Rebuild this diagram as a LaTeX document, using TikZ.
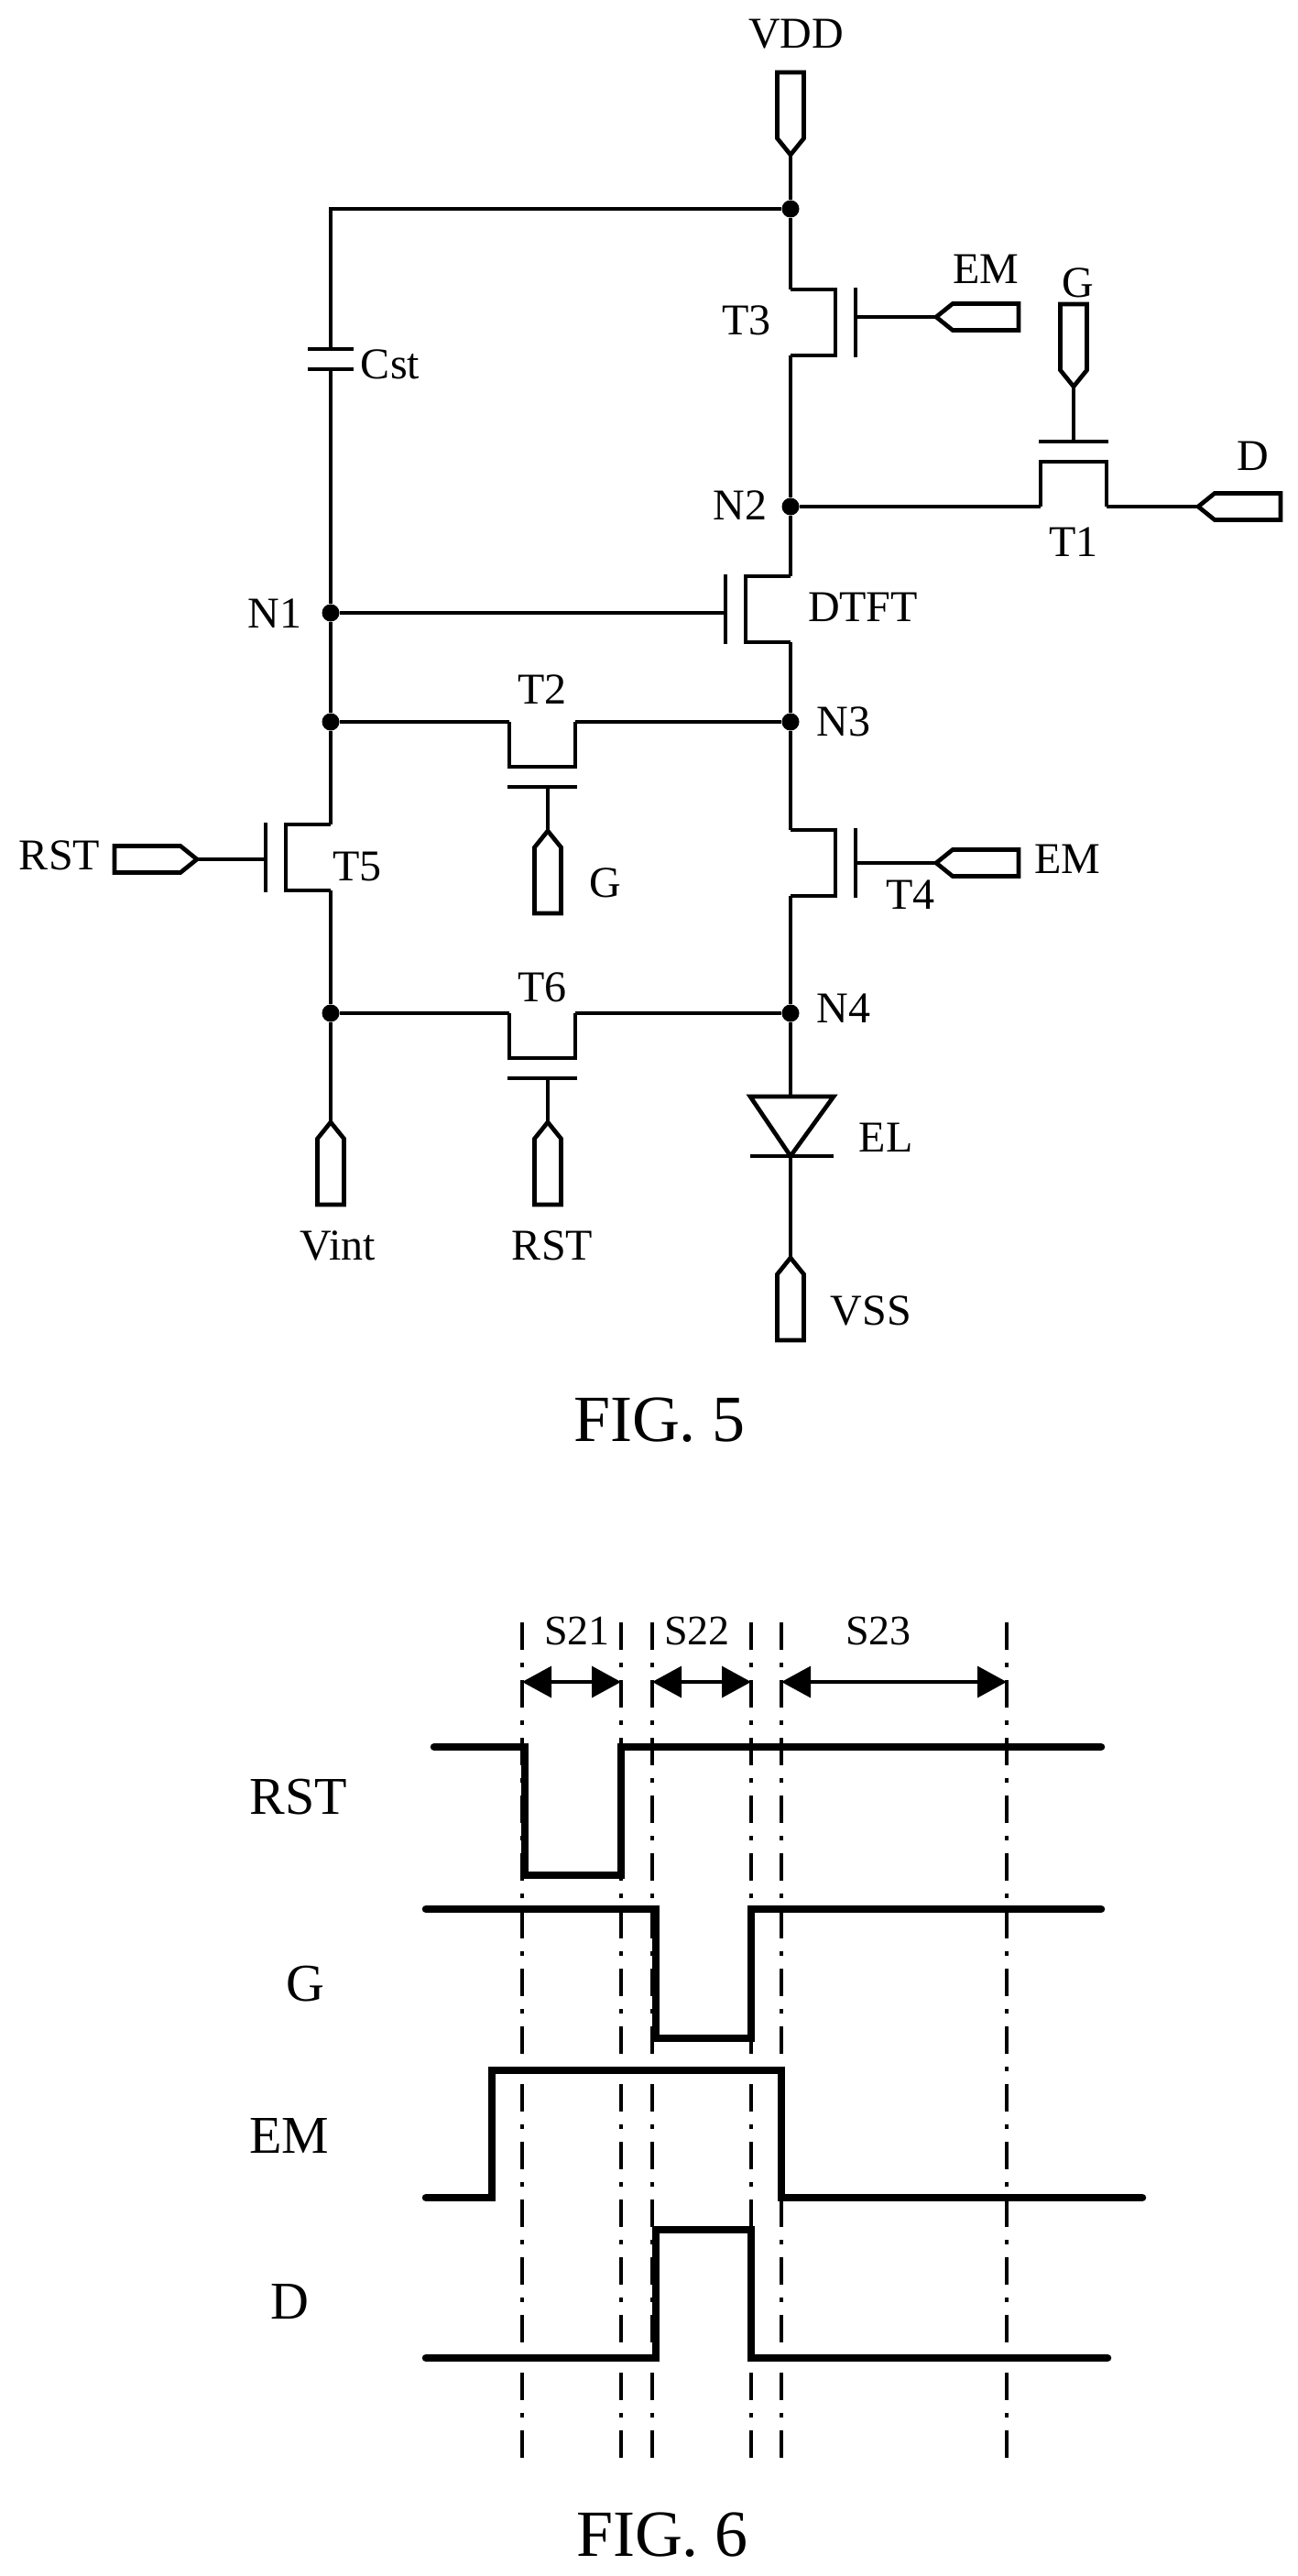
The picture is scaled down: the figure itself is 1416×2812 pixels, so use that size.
\documentclass[tikz,border=0pt]{standalone}
\usepackage{fontspec}
\setmainfont{Liberation Serif}
\usetikzlibrary{arrows.meta}
\tikzset{
  wire/.style={line width=4.7pt},
  jdot/.style={circle,fill=black,inner sep=0pt,minimum size=19pt},
  lab/.style={inner sep=0pt,font=\fontsize{48}{48}\selectfont},
  slab/.style={inner sep=0pt,font=\fontsize{46}{46}\selectfont},
  biglab/.style={inner sep=0pt,font=\fontsize{58}{58}\selectfont},
  figlab/.style={inner sep=0pt,font=\fontsize{72}{72}\selectfont},
  sig/.style={line width=8.5pt,line cap=round,line join=miter},
  guide/.style={line width=3.5pt,dash pattern=on 30pt off 14pt on 5pt off 14pt},
  span/.style={line width=3.5pt,{Triangle[length=32pt,width=34pt]}-{Triangle[length=32pt,width=34pt]}}
}
% thin film transistor: centre on the wire, gate bar on local +x
\def\tft#1#2#3{
\begin{scope}[shift={#1}, rotate=#2]
    \coordinate (#3a) at (0,-36);
    \coordinate (#3b) at (0,36);
    \coordinate (#3g) at (70,0);
    \draw[wire] (#3a) -- (49,-36) -- (49,36) -- (#3b);
    \draw[wire] (71,-38) -- (71,38);
\end{scope}
}
% signal pin: tip at the wire, body on local +x
\def\sigpin#1#2#3{
\begin{scope}[shift={#1}, rotate=#2]
    \coordinate (#3) at (0,0);
    \draw[wire] (#3) -- (18,-14.5) -- (90,-14.5) -- (90,14.5) -- (18,14.5) -- cycle;
\end{scope}
}

\begin{document}
\begin{tikzpicture}[x=1pt,y=-1pt]
    \useasboundingbox (0,0) rectangle (1416,2812);
    % FIG. 5
    \node[jdot] (ja) at (863,228) {};
    \node[jdot] (n2) at (863,553) {};
    \node[jdot] (n1) at (361,669) {};
    \node[jdot] (jb) at (361,788) {};
    \node[jdot] (n3) at (863,788) {};
    \node[jdot] (jc) at (361,1106) {};
    \node[jdot] (n4) at (863,1106) {};
    \tft{(863,352)}{0}{tc}
    \tft{(863,665)}{180}{dt}
    \tft{(863,942)}{0}{td}
    \tft{(361,936)}{180}{te}
    \tft{(1172,553)}{90}{ta}
    \tft{(592,788)}{-90}{tb}
    \tft{(592,1106)}{-90}{tf}
    \sigpin{(863,169)}{90}{pvdd}
    \sigpin{(1022,346)}{0}{pema}
    \sigpin{(1172,422)}{90}{pg}
    \sigpin{(1308,553)}{0}{pd}
    \sigpin{(215,938)}{180}{prst}
    \sigpin{(598,907)}{-90}{pgb}
    \sigpin{(1022,942)}{0}{pemb}
    \sigpin{(361,1225)}{-90}{pvint}
    \sigpin{(598,1225)}{-90}{prstb}
    \sigpin{(863,1373)}{-90}{pvss}
    \coordinate (cu) at (361,381);
    \coordinate (cl) at (361,403);
    \coordinate (da) at (863,1197);
    \coordinate (dc) at (863,1262);
    \draw[wire] (pvdd) -- (ja) -- (tca);
    \draw[wire] (ja) -- (361,228) -- (cu);
    \draw[wire] (336,381) -- (386,381);
    \draw[wire] (336,403) -- (386,403);
    \draw[wire] (cl) -- (n1) -- (jb) -- (teb);
    \draw[wire] (tea) -- (jc) -- (pvint);
    \draw[wire] (tcb) -- (n2) -- (dtb);
    \draw[wire] (dta) -- (n3) -- (tda);
    \draw[wire] (tdb) -- (n4) -- (da);
    \draw[wire] (819,1197) -- (910,1197) -- (dc) -- cycle;
    \draw[wire] (819,1262) -- (910,1262);
    \draw[wire] (dc) -- (pvss);
    \draw[wire] (n2) -- (taa);
    \draw[wire] (tab) -- (pd);
    \draw[wire] (pg) -- (tag);
    \draw[wire] (n1) -- (n1 -| dtg);
    \draw[wire] (tcg |- pema) -- (pema);
    \draw[wire] (tdg) -- (pemb);
    \draw[wire] (prst) -- (teg |- prst);
    \draw[wire] (jb) -- (tbb);
    \draw[wire] (tba) -- (n3);
    \draw[wire] (jc) -- (tfb);
    \draw[wire] (tfa) -- (n4);
    \draw[wire] (pgb |- tbg) -- (pgb);
    \draw[wire] (prstb |- tfg) -- (prstb);
    \node[lab] (lvdd) at (869,37) {VDD};
    \node[lab] (lema) at (1076,294) {EM};
    \node[lab] (lgt) at (1177,309) {G};
    \node[lab] (lt3) at (815,350) {T3};
    \node[lab] (lcst) at (426,398) {Cst};
    \node[lab] (ld) at (1368,498) {D};
    \node[lab] (ln2) at (808,552) {N2};
    \node[lab] (lt1) at (1172,592) {T1};
    \node[lab] (ldt) at (942,663) {DTFT};
    \node[lab] (ln1) at (300,670) {N1};
    \node[lab] (lt2) at (592,753) {T2};
    \node[lab] (ln3) at (921,788) {N3};
    \node[lab] (lrst) at (65,934) {RST};
    \node[lab] (lemb) at (1165,938) {EM};
    \node[lab] (lt5) at (390,946) {T5};
    \node[lab] (lgb) at (661,964) {G};
    \node[lab] (lt4) at (994,977) {T4};
    \node[lab] (lt6) at (592,1078) {T6};
    \node[lab] (ln4) at (921,1101) {N4};
    \node[lab] (lel) at (967,1242) {EL};
    \node[lab] (lvint) at (369,1360) {Vint};
    \node[lab] (lrstb) at (603,1360) {RST};
    \node[lab] (lvss) at (951,1431) {VSS};
    \node[figlab] (fa) at (720,1550) {FIG. 5};
    % FIG. 6
    \foreach \x [count=\i] in {570,678,712,820,853,1099} {
        \coordinate (mt\i) at (\x,1771);
        \coordinate (mb\i) at (\x,2684);
        \coordinate (ma\i) at (\x,1836);
        \draw[guide] (mt\i) -- (mb\i);
    }
    \draw[span] (ma1) -- (ma2);
    \draw[span] (ma3) -- (ma4);
    \draw[span] (ma5) -- (ma6);
    \node[slab] (ls1) at (630,1780) {S21};
    \node[slab] (ls2) at (761,1780) {S22};
    \node[slab] (ls3) at (959,1780) {S23};
    \draw[sig] (474,1907) -- (573,1907) -- (573,2047) -- (678,2047) -- (678,1907) -- (1202,1907);
    \draw[sig] (465,2084) -- (716,2084) -- (716,2225) -- (820,2225) -- (820,2084) -- (1202,2084);
    \draw[sig] (465,2399) -- (537,2399) -- (537,2260) -- (853,2260) -- (853,2399) -- (1247,2399);
    \draw[sig] (465,2574) -- (716,2574) -- (716,2434) -- (820,2434) -- (820,2574) -- (1209,2574);
    \node[biglab] (lsr) at (326,1962) {RST};
    \node[biglab] (lsg) at (333,2166) {G};
    \node[biglab] (lse) at (316,2331) {EM};
    \node[biglab] (lsd) at (316,2513) {D};
    \node[figlab] (fb) at (723,2767) {FIG. 6};
\end{tikzpicture}
\end{document}
